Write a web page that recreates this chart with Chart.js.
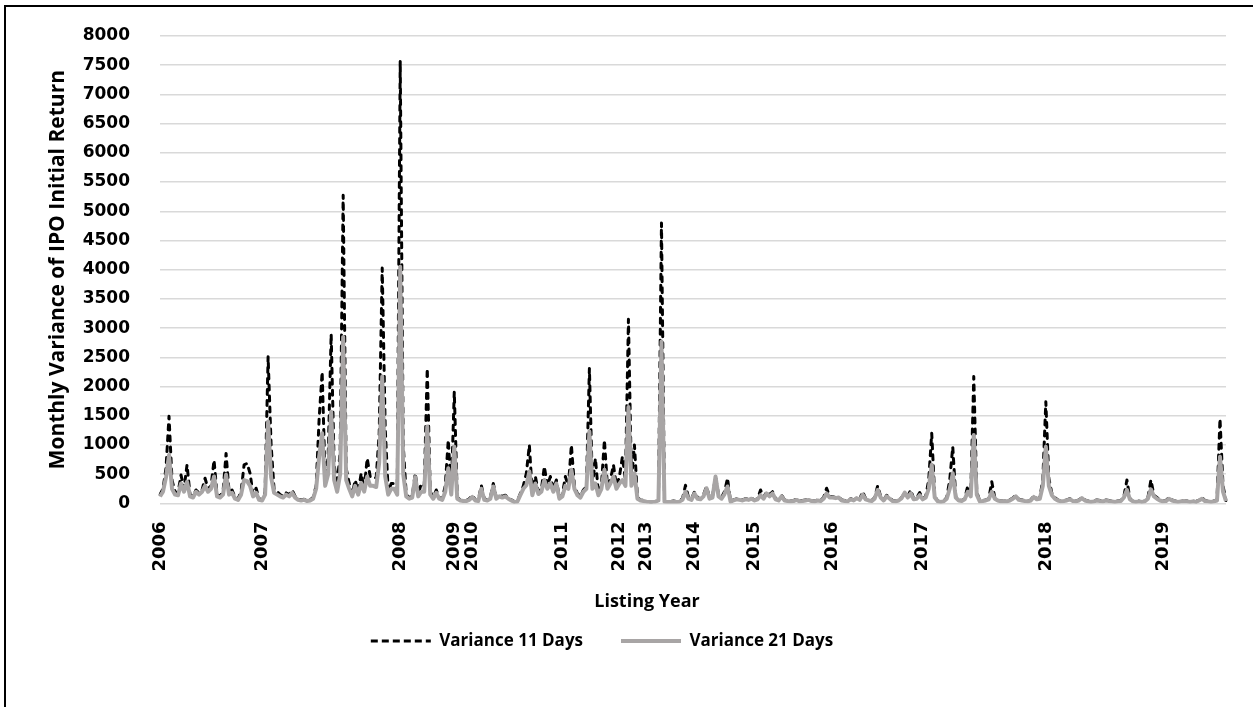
<!DOCTYPE html>
<html>
<head>
<meta charset="utf-8">
<script src="https://cdn.jsdelivr.net/npm/chart.js@4/dist/chart.umd.min.js"></script>
<style>
  html, body { margin: 0; padding: 0; background: #fff; overflow: hidden; }
  #frame { position: absolute; left: 4px; top: 5px; width: 1300px; height: 760px; border: 2px solid #000; }
  #chart { position: absolute; left: 0; top: 0; }
</style>
</head>
<body>
<div id="frame"></div>
<canvas id="chart" width="1253" height="707"></canvas>
<script>
// first listing of each year -> position in the series
const yearNames = ['2006', '2007', '2008', '2009', '2010', '2011', '2012', '2013', '2014', '2015', '2016', '2017', '2018', '2019'];
const yearStart = [0, 34, 80, 98, 104, 134, 153, 162, 178, 198, 224, 254, 295, 334];

// Variance 11 Days
const v11 = [
  150, 250, 600, 1490, 400, 200, 180, 485, 250, 660, 150, 120, 230, 180, 230, 430, 250, 300, 740, 150,
  120, 200, 855, 200, 230, 100, 80, 200, 660, 685, 515, 150, 260, 80, 60, 200, 2510, 1000, 230, 200,
  150, 120, 180, 150, 230, 120, 80, 60, 70, 50, 60, 100, 300, 1450, 2250, 400, 800, 2900, 660, 300,
  900, 5275, 600, 345, 150, 400, 200, 515, 250, 770, 460, 430, 440, 1200, 4030, 1285, 200, 340, 340, 200,
  7570, 1000, 150, 100, 120, 515, 150, 340, 300, 2310, 200, 100, 230, 100, 80, 300, 1085, 200, 1910, 100,
  60, 50, 50, 80, 140, 60, 50, 310, 80, 60, 100, 340, 100, 140, 120, 140, 100, 60, 30, 40,
  170, 300, 515, 1000, 170, 460, 200, 240, 630, 300, 460, 250, 400, 100, 150, 460, 290, 1000, 300, 170,
  120, 230, 290, 2310, 300, 770, 170, 300, 1085, 300, 400, 660, 300, 460, 800, 400, 3150, 400, 1000, 100,
  60, 50, 40, 30, 30, 40, 60, 4800, 40, 30, 30, 40, 30, 40, 80, 310, 100, 80, 200, 100,
  80, 150, 290, 100, 120, 460, 150, 100, 200, 430, 30, 60, 80, 70, 60, 80, 70, 90, 60, 80,
  230, 100, 200, 150, 200, 80, 60, 140, 60, 50, 40, 50, 70, 40, 50, 60, 70, 50, 40, 60,
  50, 100, 260, 120, 115, 100, 115, 60, 50, 40, 80, 60, 100, 70, 200, 80, 60, 50, 100, 300,
  120, 60, 140, 100, 50, 40, 60, 100, 180, 120, 230, 80, 100, 185, 80, 120, 400, 1200, 120, 40,
  30, 40, 100, 400, 970, 120, 60, 50, 80, 300, 150, 2170, 200, 40, 50, 60, 80, 370, 100, 60,
  40, 50, 40, 60, 90, 140, 70, 60, 50, 40, 60, 130, 80, 100, 400, 1740, 430, 175, 100, 60,
  40, 50, 60, 80, 50, 40, 60, 100, 60, 40, 30, 40, 60, 50, 40, 60, 50, 40, 30, 40,
  50, 120, 400, 80, 40, 30, 40, 30, 40, 100, 400, 140, 100, 60, 40, 50, 100, 60, 40, 30,
  40, 50, 40, 30, 40, 30, 60, 100, 50, 40, 30, 40, 60, 1450, 300, 50
];

// Variance 21 Days
const v21 = [
  120, 200, 450, 830, 250, 150, 140, 340, 200, 370, 120, 100, 200, 150, 200, 300, 200, 250, 460, 120,
  100, 150, 490, 150, 180, 80, 60, 150, 400, 380, 300, 120, 180, 60, 50, 150, 1400, 450, 180, 150,
  120, 100, 150, 120, 180, 100, 60, 50, 60, 40, 50, 80, 250, 800, 1200, 300, 500, 1570, 400, 200,
  500, 2850, 400, 250, 120, 300, 150, 350, 200, 460, 300, 300, 280, 700, 2170, 460, 150, 250, 250, 150,
  4050, 500, 120, 80, 100, 450, 120, 200, 200, 1315, 150, 80, 180, 80, 60, 200, 600, 150, 970, 80,
  50, 40, 40, 60, 110, 50, 40, 250, 60, 50, 80, 290, 80, 120, 100, 120, 80, 50, 25, 30,
  140, 250, 310, 545, 140, 340, 160, 200, 400, 250, 340, 200, 340, 80, 120, 300, 250, 575, 250, 140,
  100, 200, 250, 1230, 250, 340, 140, 250, 575, 250, 340, 460, 250, 340, 400, 300, 1650, 300, 515, 80,
  50, 40, 30, 25, 25, 30, 50, 2770, 30, 25, 25, 30, 25, 30, 60, 200, 80, 60, 170, 80,
  70, 120, 260, 80, 100, 460, 120, 80, 160, 290, 30, 50, 70, 60, 50, 70, 60, 80, 50, 70,
  140, 80, 170, 120, 170, 70, 50, 120, 50, 40, 35, 40, 60, 35, 40, 50, 60, 40, 35, 50,
  40, 80, 170, 100, 100, 90, 100, 50, 40, 35, 70, 50, 90, 60, 150, 70, 50, 40, 80, 230,
  100, 50, 120, 80, 40, 35, 50, 90, 185, 100, 170, 70, 80, 140, 70, 100, 250, 660, 100, 35,
  25, 35, 80, 250, 515, 100, 50, 40, 70, 200, 120, 1170, 150, 35, 40, 50, 70, 200, 80, 50,
  35, 40, 35, 50, 80, 120, 60, 50, 40, 35, 50, 110, 70, 80, 300, 970, 300, 140, 80, 50,
  35, 40, 50, 70, 40, 35, 50, 90, 50, 35, 25, 35, 50, 40, 35, 50, 40, 35, 25, 35,
  40, 100, 230, 70, 35, 25, 35, 25, 35, 80, 240, 120, 80, 50, 35, 40, 80, 50, 35, 25,
  35, 40, 35, 25, 35, 25, 50, 80, 40, 35, 25, 35, 50, 800, 200, 40
];

const labels = v11.map((_, i) => {
  const k = yearStart.indexOf(i);
  return k >= 0 ? yearNames[k] : '';
});

const textFont = '"Open Sans", Lato, sans-serif';
const tickFont = '"DejaVu Sans", sans-serif';
Chart.defaults.font.family = textFont;
Chart.defaults.font.weight = 'bold';
Chart.defaults.color = '#000';

// put legend and bottom title where the original has them
const nudge = {
  id: 'nudge',
  afterLayout(chart) {
    const move = (box, cx, top) => {
      const dx = cx - (box.left + box.right) / 2;
      const dy = top - box.top;
      box.left += dx; box.right += dx;
      box.top += dy; box.bottom += dy;
    };
    move(chart.legend, 602, 594.5);
    move(chart.titleBlock, 647, 591);
  }
};

new Chart(document.getElementById('chart'), {
  type: 'line',
  data: {
    labels: labels,
    datasets: [
      {
        label: 'Variance 11 Days',
        data: v11,
        borderColor: '#000',
        backgroundColor: '#000',
        borderWidth: 3,
        borderDash: [5, 6],
        borderCapStyle: 'round',
        borderJoinStyle: 'round',
        pointRadius: 0,
        tension: 0,
        order: 1
      },
      {
        label: 'Variance 21 Days',
        data: v21,
        borderColor: '#a8a5a5',
        backgroundColor: '#a8a5a5',
        borderWidth: 4,
        borderJoinStyle: 'round',
        pointRadius: 0,
        tension: 0,
        order: 0
      }
    ]
  },
  options: {
    responsive: false,
    animation: false,
    devicePixelRatio: 1,
    layout: { autoPadding: false, padding: { top: 36, left: 0, right: 27, bottom: 41 } },
    scales: {
      x: {
        grid: { display: false, drawTicks: false },
        border: { display: false },
        ticks: {
          autoSkip: false,
          maxRotation: 90,
          minRotation: 90,
          padding: 18,
          color: '#000',
          font: { family: tickFont, size: 18, weight: 'bold' }
        },
        afterFit(scale) {
          scale.height = 76;
          scale.paddingLeft = 0;
          scale.paddingRight = 0;
        }
      },
      y: {
        min: 0,
        max: 8000,
        grid: { color: '#d9d9d9', lineWidth: 1.5, drawTicks: false },
        border: { display: false },
        ticks: {
          stepSize: 500,
          padding: 30,
          color: '#000',
          font: { family: tickFont, size: 17, weight: 'bold' },
          callback: (v) => String(v)
        },
        title: {
          display: true,
          text: 'Monthly Variance of IPO Initial Return',
          color: '#000',
          font: { size: 21, weight: 'bold' },
          padding: { top: 45, bottom: 0 }
        },
        afterFit(scale) {
          scale.width = 160;
          scale.paddingTop = 0;
          scale.paddingBottom = 0;
        }
      }
    },
    plugins: {
      title: {
        display: true,
        text: 'Listing Year',
        position: 'bottom',
        color: '#000',
        font: { size: 18, weight: 'bold' },
        padding: 0
      },
      legend: {
        position: 'bottom',
        labels: {
          usePointStyle: true,
          pointStyle: 'line',
          pointStyleWidth: 60,
          padding: 38,
          color: '#000',
          font: { size: 17, weight: 'bold' },
          sort: (a, b) => a.datasetIndex - b.datasetIndex,
          generateLabels(chart) {
            const items = Chart.defaults.plugins.legend.labels.generateLabels(chart);
            items.forEach((item) => {
              const ds = chart.data.datasets[item.datasetIndex];
              item.strokeStyle = ds.borderColor;
              item.lineWidth = ds.borderWidth;
              item.lineDash = ds.borderDash ? [7, 4] : [];
              item.lineCap = 'butt';
              item.pointStyle = 'line';
            });
            return items;
          }
        }
      },
      tooltip: { enabled: false }
    }
  },
  plugins: [nudge]
});
</script>
</body>
</html>
